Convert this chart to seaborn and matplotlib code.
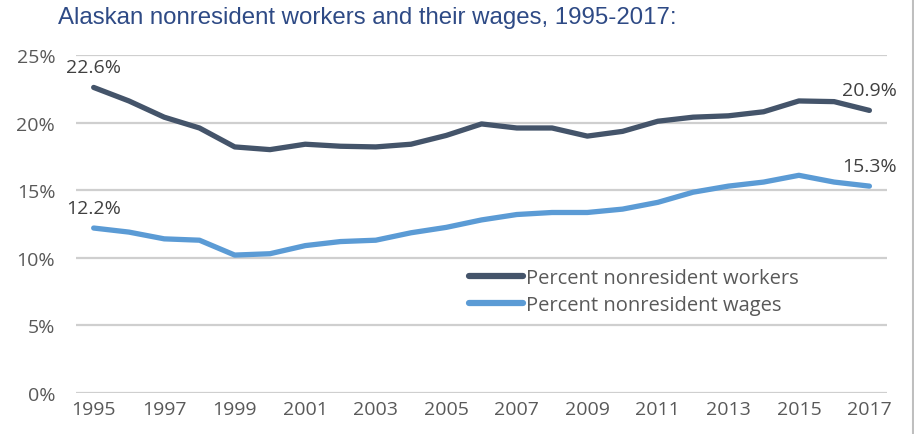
import matplotlib
matplotlib.use("Agg")
import matplotlib.pyplot as plt
import seaborn as sns
import pandas as pd
from matplotlib.lines import Line2D

years = list(range(1995, 2018))
workers = [22.6, 21.6, 20.4, 19.6, 18.2, 18.0, 18.4, 18.25, 18.2, 18.4, 19.05,
           19.9, 19.6, 19.6, 19.0, 19.35, 20.1, 20.4, 20.5, 20.8, 21.6, 21.55, 20.9]
wages = [12.2, 11.9, 11.4, 11.3, 10.2, 10.3, 10.9, 11.2, 11.3, 11.85, 12.25,
         12.8, 13.2, 13.35, 13.35, 13.6, 14.1, 14.85, 15.3, 15.6, 16.1, 15.6, 15.3]
series_names = ["Percent nonresident workers", "Percent nonresident wages"]
colors = ["#44546A", "#5B9BD5"]
yticks = [0, 5, 10, 15, 20, 25]
xticks = list(range(1995, 2018, 2))
title = "Alaskan nonresident workers and their wages, 1995-2017:"

df = pd.DataFrame({
    "year": years * 2,
    "value": workers + wages,
    "series": [series_names[0]] * len(years) + [series_names[1]] * len(years),
})

sns.set_theme(style="white")
plt.rcParams["font.family"] = ["Open Sans", "DejaVu Sans"]

fig = plt.figure(figsize=(9.14, 4.35), dpi=100)
ax = fig.add_axes([0.0832, 0.0943, 0.8873, 0.777])

sns.lineplot(data=df, x="year", y="value", hue="series", palette=colors,
             linewidth=3.8, ax=ax, legend=False, solid_capstyle="round")

ax.set_xlim(1994.5, 2017.5)
ax.set_ylim(0, 25)
ax.set_yticks(yticks)
ax.set_yticklabels([f"{v}%" for v in yticks])
ax.set_xticks(xticks)
ax.set_xticklabels([str(x) for x in xticks])
ax.set_xlabel("")
ax.set_ylabel("")
ax.grid(axis="y", color="#CFCFCF", linewidth=1.6)
ax.set_axisbelow(True)
for s in ax.spines.values():
    s.set_visible(False)
ax.tick_params(axis="both", length=0, labelsize=14, labelcolor="#595959")
ax.tick_params(axis="y", pad=15)
ax.tick_params(axis="x", pad=5)

lab_kw = dict(fontsize=14, color="#404040", ha="center", va="bottom")
ax.annotate(f"{workers[0]}%", (years[0], workers[0]), xytext=(0, 8),
            textcoords="offset points", **lab_kw)
ax.annotate(f"{wages[0]}%", (years[0], wages[0]), xytext=(0, 8),
            textcoords="offset points", **lab_kw)
ax.annotate(f"{workers[-1]}%", (years[-1], workers[-1]), xytext=(0, 8),
            textcoords="offset points", **lab_kw)
ax.annotate(f"{wages[-1]}%", (years[-1], wages[-1]), xytext=(0, 8),
            textcoords="offset points", **lab_kw)

handles = [Line2D([0], [0], color=c, linewidth=4.5, solid_capstyle="round") for c in colors]
leg = ax.legend(handles, series_names, loc="upper left",
                bbox_to_anchor=(0.484, 0.37), frameon=False, fontsize=14.5,
                handlelength=2.7, handletextpad=0.15, labelspacing=0.35,
                borderaxespad=0, borderpad=0)
for t in leg.get_texts():
    t.set_color("#595959")

fig.text(0.063, 0.958, title, fontsize=17.3, color="#2E4A85",
         family=["Liberation Sans", "DejaVu Sans"], ha="left", va="center")

fig.add_artist(Line2D([0.9985, 0.9985], [0, 1], color="#BFBFBF", linewidth=1.5,
                      transform=fig.transFigure))

fig.savefig("out.png", dpi=100)
